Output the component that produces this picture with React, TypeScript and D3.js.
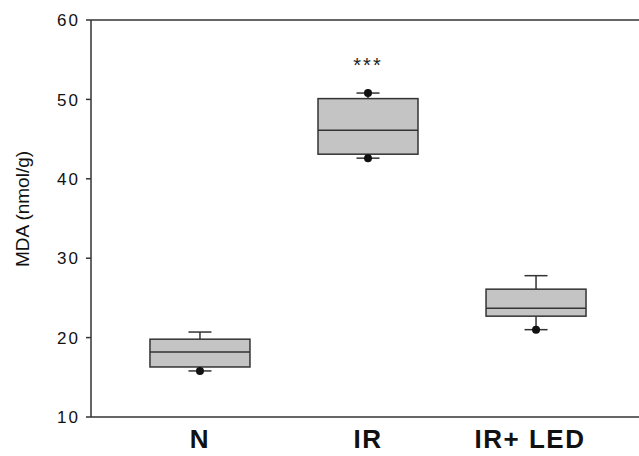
import React from "react";
import * as d3 from "d3";

const categories = ["N", "IR", "IR+ LED"];
const whiskerLow = [15.8, 42.6, 21.0];
const q1 = [16.3, 43.1, 22.7];
const median = [18.2, 46.1, 23.7];
const q3 = [19.8, 50.1, 26.1];
const whiskerHigh = [20.7, 50.8, 27.8];
// dots drawn on the whisker ends
const dotValues: [number, number][] = [
  [0, 15.8],
  [1, 50.8],
  [1, 42.6],
  [2, 21.0],
];
const yTicks = [10, 20, 30, 40, 50, 60];
const signif = ["", "***", ""];

const App = () => {
  const width = 639;
  const height = 456;
  const left = 91;
  const top = 20;
  const bottom = 417;

  const yScale = d3.scaleLinear().domain([10, 60]).range([bottom, top]);
  const xScale = d3
    .scaleBand()
    .domain(categories)
    .range([left, 645])
    .paddingInner(0.405)
    .paddingOuter(0.351);

  const bw = xScale.bandwidth();
  const capW = 23;
  const stroke = "#333";

  return (
    <svg
      width={width}
      height={height}
      style={{ position: "absolute", left: 0, top: 0, background: "#fff" }}
      fontFamily="'Liberation Sans', Arial, sans-serif"
    >
      {/* frame */}
      <line x1={left} x2={width} y1={top} y2={top} stroke={stroke} strokeWidth={1.5} />
      <line x1={left} x2={width} y1={bottom} y2={bottom} stroke={stroke} strokeWidth={1.5} />
      <line x1={left} x2={left} y1={top} y2={bottom} stroke={stroke} strokeWidth={1.5} />

      {/* y ticks */}
      {yTicks.map((t) => (
        <g key={t}>
          <line x1={left - 5} x2={left} y1={yScale(t)} y2={yScale(t)} stroke={stroke} strokeWidth={1.5} />
          <text
            x={80}
            y={yScale(t)}
            dy="0.36em"
            textAnchor="end"
            fontSize={17}
            letterSpacing={2}
            fill="#111"
          >
            {t}
          </text>
        </g>
      ))}

      <text
        transform="translate(29,209) rotate(-90)"
        textAnchor="middle"
        fontSize={19}
        fill="#111"
      >
        MDA (nmol/g)
      </text>

      {/* boxes */}
      {categories.map((c, i) => {
        const x0 = xScale(c) as number;
        const cx = x0 + bw / 2;
        return (
          <g key={c}>
            <line x1={cx} x2={cx} y1={yScale(q3[i])} y2={yScale(whiskerHigh[i])} stroke={stroke} strokeWidth={1.5} />
            <line x1={cx} x2={cx} y1={yScale(q1[i])} y2={yScale(whiskerLow[i])} stroke={stroke} strokeWidth={1.5} />
            <line x1={cx - capW / 2} x2={cx + capW / 2} y1={yScale(whiskerHigh[i])} y2={yScale(whiskerHigh[i])} stroke={stroke} strokeWidth={1.5} />
            <line x1={cx - capW / 2} x2={cx + capW / 2} y1={yScale(whiskerLow[i])} y2={yScale(whiskerLow[i])} stroke={stroke} strokeWidth={1.5} />
            <rect
              x={x0}
              y={yScale(q3[i])}
              width={bw}
              height={yScale(q1[i]) - yScale(q3[i])}
              fill="#c4c4c4"
              stroke={stroke}
              strokeWidth={1.5}
            />
            <line x1={x0} x2={x0 + bw} y1={yScale(median[i])} y2={yScale(median[i])} stroke={stroke} strokeWidth={1.5} />
            {signif[i] && (
              <text x={cx} y={72} textAnchor="middle" fontSize={20} letterSpacing={2} fill="#222">
                {signif[i]}
              </text>
            )}
            <text
              x={cx}
              y={448}
              dx={i === 2 ? -6 : 0}
              textAnchor="middle"
              fontSize={26}
              fontWeight="bold"
              letterSpacing={1.5}
              fill="#111"
            >
              {c}
            </text>
          </g>
        );
      })}

      {dotValues.map(([i, v], k) => (
        <circle
          key={k}
          cx={(xScale(categories[i]) as number) + bw / 2}
          cy={yScale(v)}
          r={4}
          fill="#111"
        />
      ))}
    </svg>
  );
};

export default App;
